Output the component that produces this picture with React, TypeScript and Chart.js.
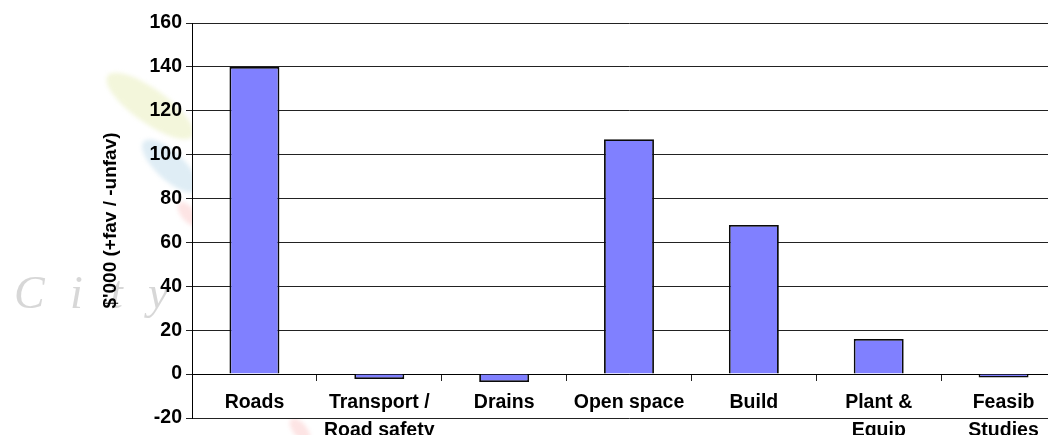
import { useEffect, useRef } from 'react';
import { Chart, registerables } from 'chart.js';

Chart.register(...registerables);

// Variance by programme, $'000 (positive = favourable, negative = unfavourable)
const categories: string[][] = [
  ['Roads'],
  ['Transport /', 'Road safety'],
  ['Drains'],
  ['Open space'],
  ['Build'],
  ['Plant &', 'Equip'],
  ['Feasib', 'Studies'],
];
const variances: number[] = [140, -2.2, -3.6, 107, 68, 16, -1.5];

const yMin = -20;
const yMax = 160;
const yStep = 20;
const yTitle = "$'000 (+fav / -unfav)";
const watermarkLetters = ['C', 'i', 't', 'y'];

const FONT = "'Liberation Sans', Arial, sans-serif";

// Faint letterhead watermark drawn behind the chart, with the plot area kept white
const watermarkPlugin = {
  id: 'watermark',
  beforeDraw(chart: Chart) {
    const ctx = chart.ctx;
    const area = chart.chartArea;
    ctx.save();
    ctx.filter = 'blur(2px)';
    const leaf = (x: number, y: number, rx: number, ry: number, rot: number, color: string) => {
      ctx.save();
      ctx.translate(x, y);
      ctx.rotate(rot);
      ctx.beginPath();
      ctx.ellipse(0, 0, rx, ry, 0, 0, Math.PI * 2);
      ctx.fillStyle = color;
      ctx.fill();
      ctx.restore();
    };
    leaf(150, 106, 52, 17, 0.62, 'rgba(228, 236, 175, 0.45)');
    leaf(170, 166, 36, 14, 0.75, 'rgba(185, 216, 232, 0.45)');
    leaf(188, 214, 14, 7, 0.9, 'rgba(250, 195, 195, 0.45)');
    leaf(300, 430, 14, 7, 0.9, 'rgba(250, 195, 195, 0.45)');
    ctx.filter = 'none';
    ctx.font = "italic 46px 'Liberation Serif', 'DejaVu Serif', serif";
    ctx.fillStyle = 'rgba(205, 205, 205, 0.8)';
    ctx.textBaseline = 'alphabetic';
    const xs = [14, 70, 110, 148];
    watermarkLetters.forEach((ch, i) => ctx.fillText(ch, xs[i], 308));
    ctx.fillStyle = '#fff';
    ctx.fillRect(area.left, area.top, area.right - area.left, area.bottom - area.top);
    ctx.restore();
  },
};

export default function App() {
  const canvasRef = useRef<HTMLCanvasElement | null>(null);

  useEffect(() => {
    const canvas = canvasRef.current;
    if (!canvas) return;
    const chart = new Chart(canvas, {
      type: 'bar',
      data: {
        labels: categories,
        datasets: [
          {
            data: variances,
            backgroundColor: '#8080ff',
            borderColor: '#0a0a0a',
            borderWidth: 1.8,
            barPercentage: 0.4,
            categoryPercentage: 1,
          },
        ],
      },
      options: {
        responsive: false,
        animation: false,
        devicePixelRatio: 1,
        layout: { padding: { top: 23, bottom: 17, left: 0, right: 34 } },
        plugins: {
          legend: { display: false },
          tooltip: { enabled: false },
        },
        scales: {
          x: {
            type: 'category',
            position: { y: 0 },
            offset: true,
            grid: {
              offset: true,
              drawOnChartArea: false,
              drawTicks: true,
              tickLength: 6,
              color: '#222',
            },
            border: { color: '#000', width: 1 },
            ticks: {
              color: '#000',
              font: { family: FONT, size: 19.5, weight: 'bold', lineHeight: 1.42 },
              padding: 9,
              maxRotation: 0,
              autoSkip: false,
            },
          },
          y: {
            min: yMin,
            max: yMax,
            ticks: {
              stepSize: yStep,
              color: '#000',
              font: { family: FONT, size: 19.5, weight: 'bold' },
              padding: 4,
            },
            grid: { color: '#222', tickLength: 6 },
            border: { color: '#000', width: 1 },
            title: {
              display: true,
              text: yTitle,
              color: '#000',
              font: { family: FONT, size: 19, weight: 'bold' },
              padding: { top: 99, bottom: 0 },
            },
            afterFit(scale: any) {
              scale.width = 192;
            },
          },
        },
      },
      plugins: [watermarkPlugin],
    });
    return () => chart.destroy();
  }, []);

  return (
    <div
      style={{
        position: 'fixed',
        left: 0,
        top: 0,
        width: 1048,
        height: 435,
        overflow: 'hidden',
        background: '#fff',
      }}
    >
      <canvas ref={canvasRef} width={1100} height={435} style={{ display: 'block' }} />
    </div>
  );
}
